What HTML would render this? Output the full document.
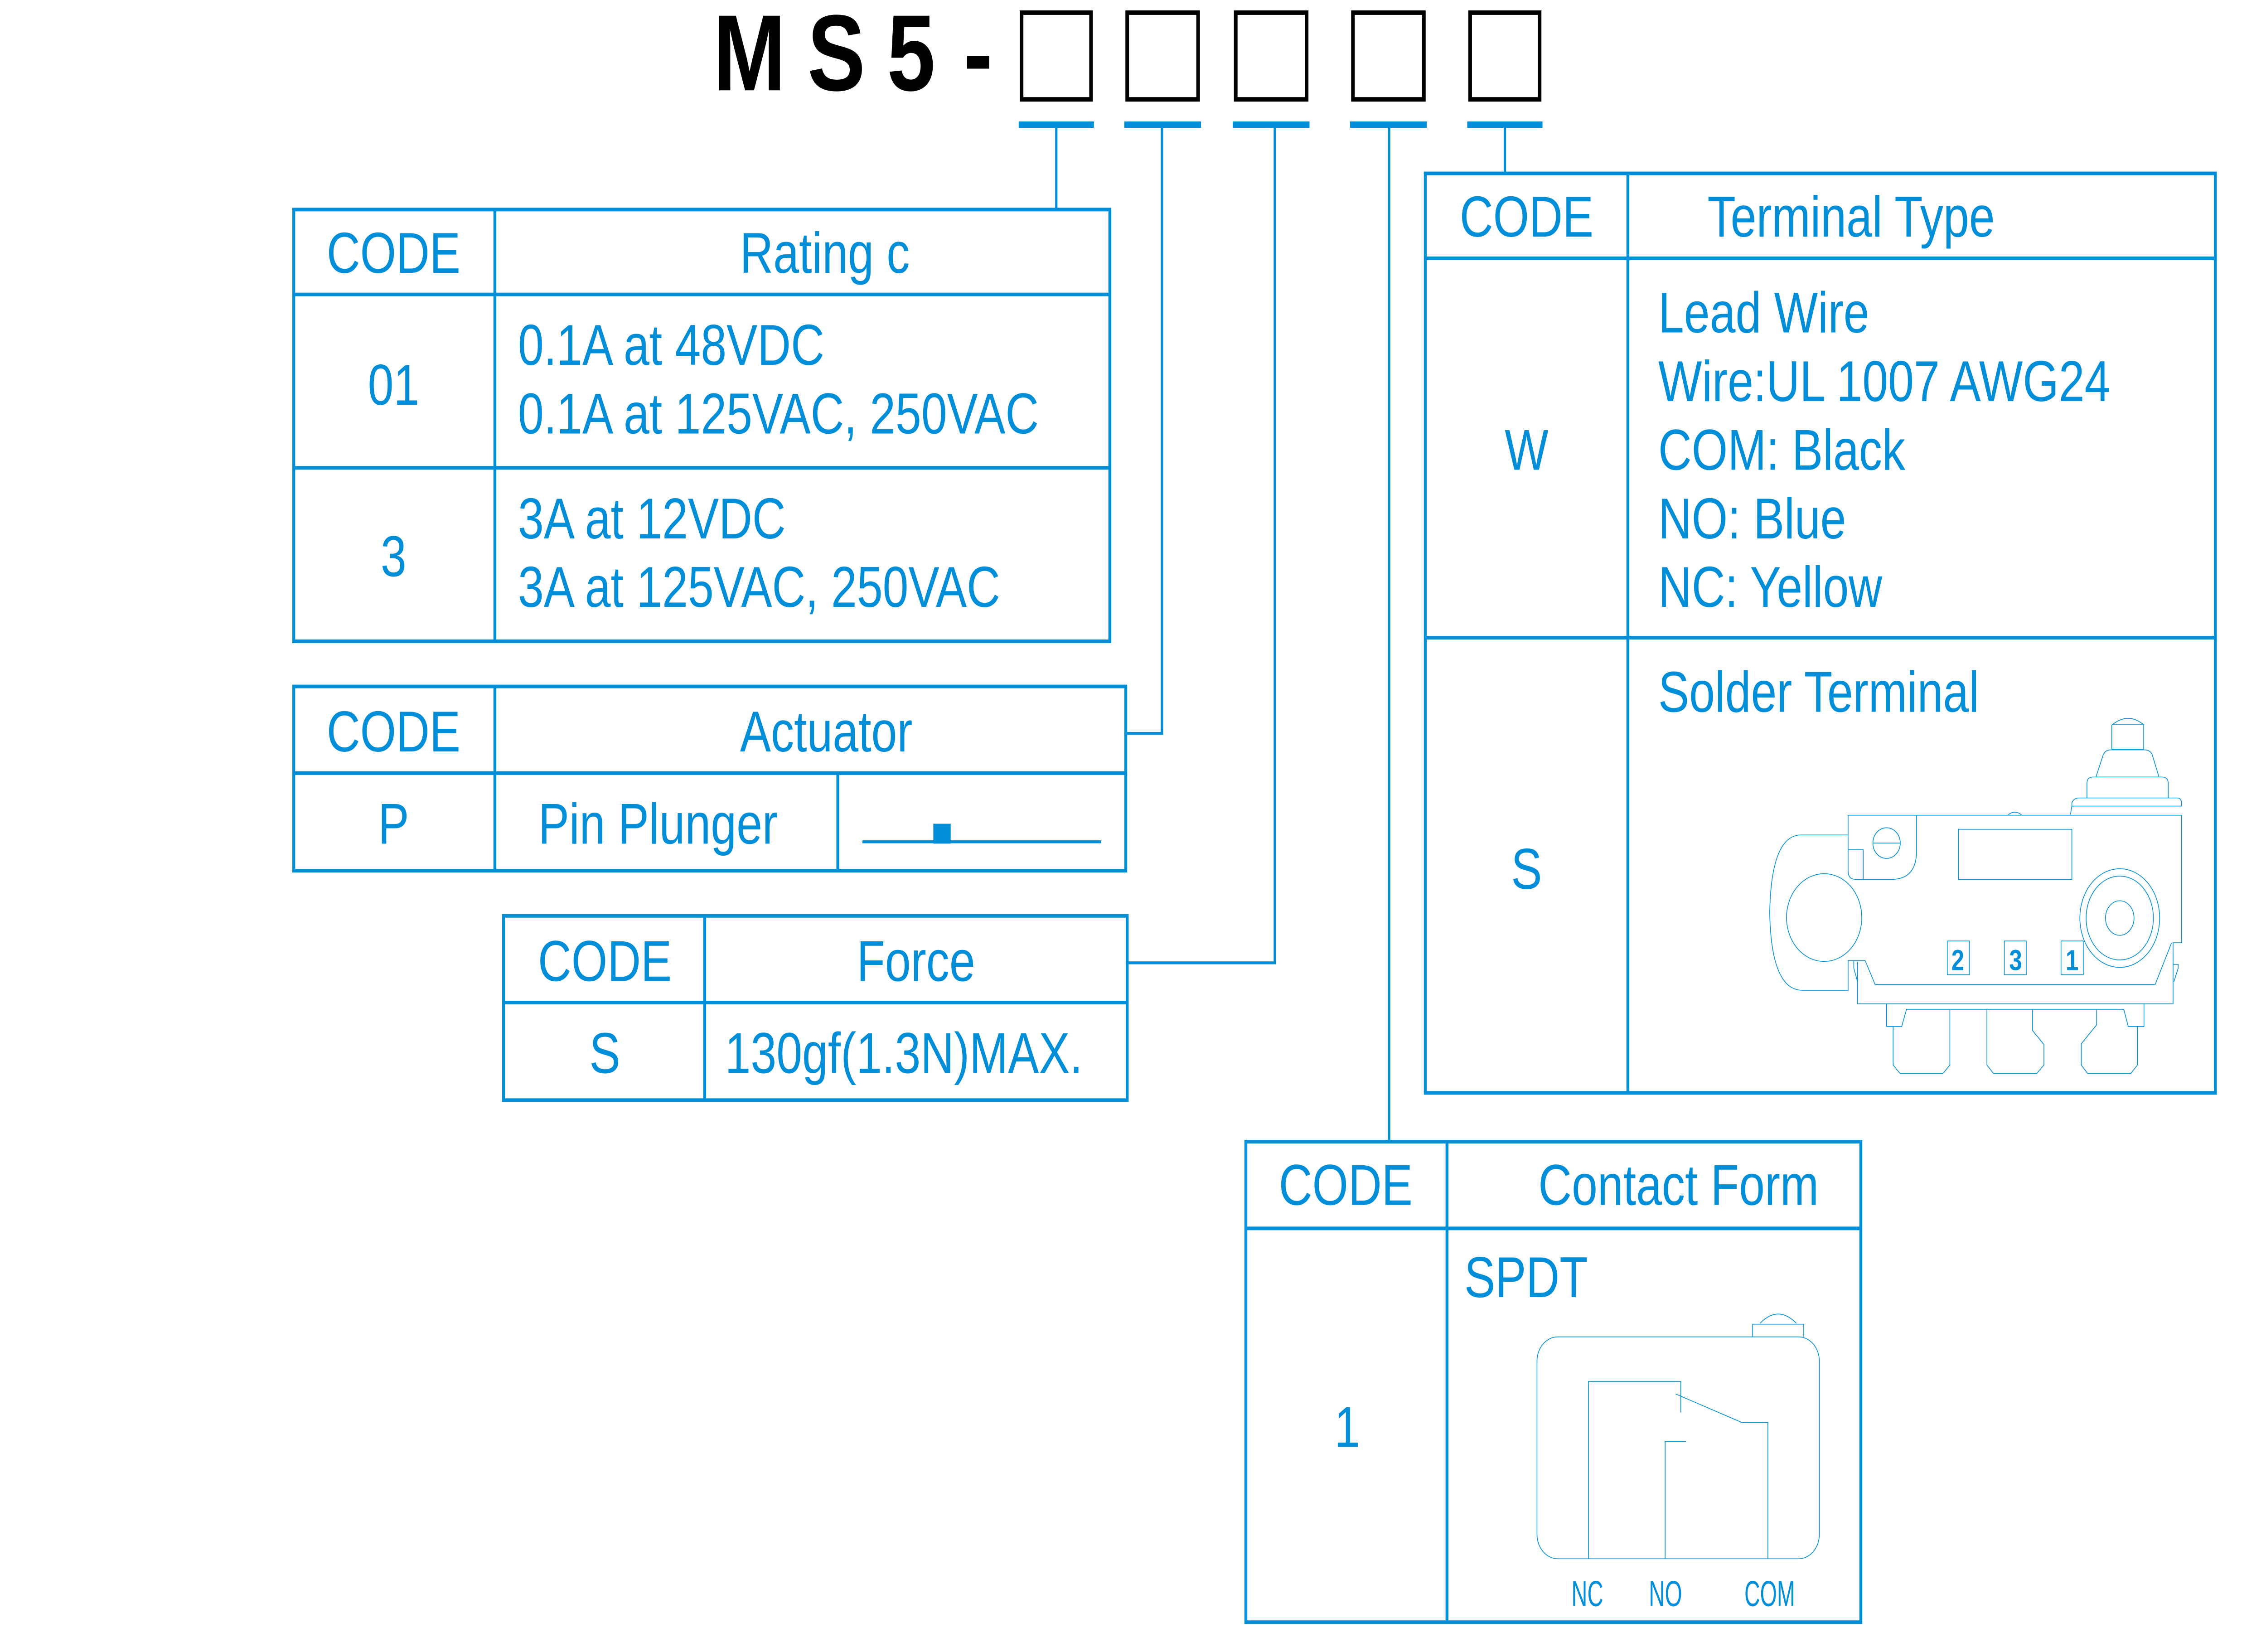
<!DOCTYPE html>
<html><head><meta charset="utf-8"><style>
html,body{margin:0;padding:0;background:#fff;width:100%;height:100%;overflow:hidden}
svg{display:block;width:100vw;height:100vh}
text{font-family:"Liberation Sans",Arial,sans-serif}
</style></head><body>
<svg viewBox="0 0 1566 914.5" preserveAspectRatio="none" xmlns="http://www.w3.org/2000/svg">
<g font-weight="bold" font-size="60" fill="#000">
<text x="493" y="50">M</text><text x="558" y="50">S</text><text x="613" y="50">5</text><text x="666" y="50">-</text>
</g>
<g fill="none" stroke="#000" stroke-width="2.5">
<rect x="706" y="7" width="48" height="48"/><rect x="779" y="7" width="49" height="48"/><rect x="854" y="7" width="49" height="48"/><rect x="935" y="7" width="49" height="48"/><rect x="1016" y="7" width="48" height="48"/>
</g>
<g stroke="#008ED8" stroke-width="3.5">
<line x1="704" y1="69" x2="756" y2="69"/><line x1="777" y1="69" x2="830" y2="69"/><line x1="852" y1="69" x2="905" y2="69"/><line x1="933" y1="69" x2="986" y2="69"/><line x1="1014" y1="69" x2="1066" y2="69"/>
</g>
<g stroke="#008ED8" stroke-width="1.6" fill="none">
<polyline points="730,69 730,116"/>
<polyline points="803,69 803,406 778,406"/>
<polyline points="881,69 881,533 780,533"/>
<polyline points="960,69 960,632"/>
<polyline points="1040,69 1040,96"/>
</g>
<g stroke="#008ED8" stroke-width="2" fill="none">
<rect x="203" y="116" width="564" height="239"/>
<line x1="203" y1="163" x2="767" y2="163"/><line x1="203" y1="259" x2="767" y2="259"/><line x1="342" y1="116" x2="342" y2="355"/>
<rect x="203" y="380" width="575" height="102"/>
<line x1="203" y1="428" x2="778" y2="428"/><line x1="342" y1="380" x2="342" y2="482"/><line x1="579" y1="428" x2="579" y2="482"/>
<rect x="348" y="507" width="431" height="102"/>
<line x1="348" y1="555" x2="779" y2="555"/><line x1="487" y1="507" x2="487" y2="609"/>
<rect x="985" y="96" width="546" height="509"/>
<line x1="985" y1="143" x2="1531" y2="143"/><line x1="985" y1="353" x2="1531" y2="353"/><line x1="1125" y1="96" x2="1125" y2="605"/>
<rect x="861" y="632" width="425" height="266"/>
<line x1="861" y1="680" x2="1286" y2="680"/><line x1="1000" y1="632" x2="1000" y2="898"/>
</g>
<line x1="596" y1="466" x2="761" y2="466" stroke="#008ED8" stroke-width="1.6"/>
<rect x="645" y="456" width="12" height="11" fill="#008ED8"/>
<g fill="#008ED8" font-size="32">
<text x="272" y="151" text-anchor="middle">CODE</text>
<text x="570" y="151" text-anchor="middle">Rating c</text>
<text x="272" y="224" text-anchor="middle">01</text>
<text x="358" y="202">0.1A at 48VDC</text>
<text x="358" y="240">0.1A at 125VAC, 250VAC</text>
<text x="272" y="319" text-anchor="middle">3</text>
<text x="358" y="298">3A at 12VDC</text>
<text x="358" y="336">3A at 125VAC, 250VAC</text>
<text x="272" y="416" text-anchor="middle">CODE</text>
<text x="571" y="416" text-anchor="middle">Actuator</text>
<text x="272" y="467" text-anchor="middle">P</text>
<text x="372" y="467">Pin Plunger</text>
<text x="418" y="543" text-anchor="middle">CODE</text>
<text x="633" y="543" text-anchor="middle">Force</text>
<text x="418" y="594" text-anchor="middle">S</text>
<text x="501" y="594">130gf(1.3N)MAX.</text>
<text x="1055" y="131" text-anchor="middle">CODE</text>
<text x="1180" y="131">Terminal Type</text>
<text x="1146" y="184">Lead Wire</text>
<text x="1146" y="222">Wire:UL 1007 AWG24</text>
<text x="1146" y="260">COM: Black</text>
<text x="1146" y="298">NO: Blue</text>
<text x="1146" y="336">NC: Yellow</text>
<text x="1055" y="260" text-anchor="middle">W</text>
<text x="1146" y="394">Solder Terminal</text>
<text x="1055" y="492" text-anchor="middle">S</text>
<text x="930" y="667" text-anchor="middle">CODE</text>
<text x="1160" y="667" text-anchor="middle">Contact Form</text>
<text x="931" y="801" text-anchor="middle">1</text>
<text x="1012" y="718">SPDT</text>
</g>
<g transform="translate(1224,396) scale(0.197,0.1365)" fill="none" stroke="#008ED8" stroke-width="1.6">
<path vector-effect="non-scaling-stroke" d="M1197,38 Q1252,-14 1307,38 Z M1195,38 V137 H1307 V38"/>
<path vector-effect="non-scaling-stroke" d="M1140,248 L1165,160 Q1172,140 1192,140 H1310 Q1330,140 1337,160 L1360,248"/>
<path vector-effect="non-scaling-stroke" d="M1108,335 V275 Q1108,250 1130,250 H1370 Q1393,250 1393,275 V335"/>
<path vector-effect="non-scaling-stroke" d="M1050,402 L1055,368 V355 Q1062,335 1080,335 H1425 Q1440,335 1440,360 V368 H1055"/>
<path vector-effect="non-scaling-stroke" d="M270,405 H1440 V922 H1410 V1170 H303 V1000"/>
<path vector-effect="non-scaling-stroke" d="M830,405 Q855,380 880,405"/>
<path vector-effect="non-scaling-stroke" d="M270,405 V630 Q270,665 295,665 H430 Q510,660 510,550 V405 M270,545 H323 V665"/>
<ellipse vector-effect="non-scaling-stroke" cx="405" cy="518" rx="48" ry="62"/>
<line vector-effect="non-scaling-stroke" x1="357" y1="518" x2="453" y2="518"/>
<rect vector-effect="non-scaling-stroke" x="657" y="462" width="398" height="203"/>
<path vector-effect="non-scaling-stroke" d="M270,485 H105 Q0,485 -5,800 Q0,1115 110,1115 H270 V995 H330 L365,1092 H1347 L1405,922"/>
<ellipse vector-effect="non-scaling-stroke" cx="186" cy="820" rx="132" ry="178"/>
<ellipse vector-effect="non-scaling-stroke" cx="1223" cy="822" rx="140" ry="200"/>
<ellipse vector-effect="non-scaling-stroke" cx="1223" cy="822" rx="118" ry="170"/>
<ellipse vector-effect="non-scaling-stroke" cx="1223" cy="822" rx="50" ry="70"/>
<path vector-effect="non-scaling-stroke" d="M290,995 V1025 L303,1080 M1410,1010 H1428 V1025 L1413,1080"/>
<path vector-effect="non-scaling-stroke" d="M405,1170 V1262 H458 L475,1192 H1237 L1253,1262 H1308 V1170"/>
<path vector-effect="non-scaling-stroke" d="M428,1262 V1418 L452,1452 H603 L627,1418 V1195"/>
<path vector-effect="non-scaling-stroke" d="M757,1195 V1418 L780,1452 H932 L957,1418 V1335 L917,1278 V1195"/>
<path vector-effect="non-scaling-stroke" d="M1142,1195 V1255 L1088,1332 V1418 L1110,1452 H1262 L1285,1418 V1262"/>
<rect vector-effect="non-scaling-stroke" x="618" y="915" width="77" height="137"/>
<rect vector-effect="non-scaling-stroke" x="818" y="915" width="77" height="137"/>
<rect vector-effect="non-scaling-stroke" x="1017" y="915" width="78" height="137"/>
</g>
<g fill="#008ED8" font-size="16" font-weight="bold" text-anchor="middle">
<text x="1353" y="537">2</text><text x="1393" y="537">3</text><text x="1432" y="537">1</text>
</g>
<g transform="translate(1055,724.6) scale(0.144,0.117)" fill="none" stroke="#008ED8">
<rect vector-effect="non-scaling-stroke" stroke-width="1.6" x="50" y="132" width="1355" height="1050" rx="100" ry="115"/>
<path vector-effect="non-scaling-stroke" stroke-width="1.6" d="M1085,132 V72 H1330 V132 M1120,68 Q1207,-20 1295,68"/>
<path vector-effect="non-scaling-stroke" stroke-width="1.6" d="M297,1182 V343 H740 V490 M715,402 L1033,537 H1158 V1182 M665,1182 V627 H765"/>
</g>
<g fill="#008ED8" font-size="20">
<text x="1097" y="889" text-anchor="middle" textLength="22" lengthAdjust="spacingAndGlyphs">NC</text>
<text x="1151" y="889" text-anchor="middle" textLength="23" lengthAdjust="spacingAndGlyphs">NO</text>
<text x="1223" y="889" text-anchor="middle" textLength="35" lengthAdjust="spacingAndGlyphs">COM</text>
</g>
</svg>
</body></html>
